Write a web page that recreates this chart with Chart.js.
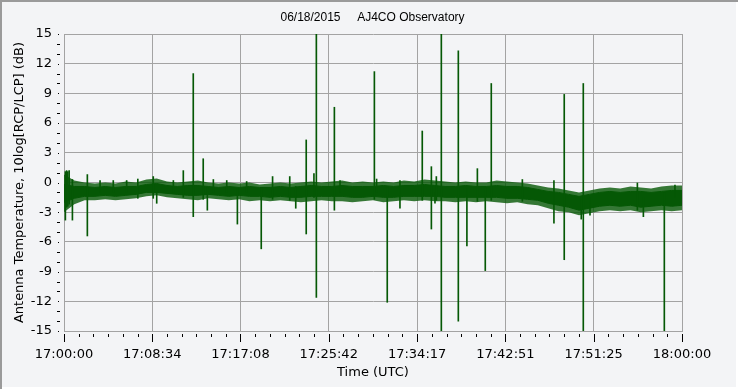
<!DOCTYPE html>
<html>
<head>
<meta charset="utf-8">
<script src="https://cdn.jsdelivr.net/npm/chart.js@4.4.1/dist/chart.umd.min.js"></script>
<style>
  html, body { margin:0; padding:0; background:#f3f4f6; }
  #wrap { width:738px; height:389px; position:relative; }
</style>
</head>
<body>
<div id="wrap"><canvas id="chart" width="738" height="389"></canvas></div>
<script>
const chartTitle = '06/18/2015     AJ4CO Observatory';

// seconds after 17:00:00 UTC
const tickSeconds = [0, 514, 1028, 1542, 2057, 2571, 3085, 3600];
const tickLabels  = ['17:00:00', '17:08:34', '17:17:08', '17:25:42', '17:34:17', '17:42:51', '17:51:25', '18:00:00'];

// noise band, one reading per minute (dB): outer extent and dense core
const bandMinutes = [0,1,2,3,4,5,6,7,8,9,10,11,12,13,14,15,16,17,18,19,20,21,22,23,24,25,26,27,28,29,30,
  31,32,33,34,35,36,37,38,39,40,41,42,43,44,45,46,47,48,49,50,51,52,53,54,55,56,57,58,59,60];
const bandUpper = [0.8,0.2,0.0,-0.1,0.0,-0.1,0.1,0.0,0.3,0.4,0.1,0.0,0.1,0.2,0.0,-0.1,0.0,-0.1,0.0,-0.2,-0.1,
  0.0,-0.1,0.0,0.1,0.0,0.1,0.2,0.0,0.1,0.0,0.1,0.0,0.2,0.1,0.3,0.2,0.1,0.0,0.1,0.0,
  0.0,0.2,0.1,0.0,-0.1,-0.3,-0.5,-0.6,-0.8,-1.0,-0.8,-0.6,-0.5,-0.6,-0.4,-0.5,-0.6,-0.4,-0.3,-0.3];
const bandLower = [-3.0,-2.2,-1.8,-1.8,-1.7,-1.8,-1.7,-1.6,-1.4,-1.3,-1.5,-1.6,-1.7,-1.8,-1.6,-1.7,-1.8,-1.7,-1.9,-1.8,-1.9,
  -1.8,-1.9,-2.0,-1.9,-1.8,-1.9,-1.9,-2.0,-1.9,-1.8,-2.0,-1.9,-1.8,-1.9,-1.8,-1.9,-1.9,-2.0,-1.9,-2.0,
  -1.9,-2.0,-2.1,-2.0,-2.2,-2.3,-2.6,-2.9,-3.0,-3.3,-3.1,-2.9,-2.8,-2.9,-2.8,-3.0,-2.9,-2.8,-2.9,-2.8];
const coreUpper = [-0.2,-0.4,-0.4,-0.5,-0.4,-0.5,-0.4,-0.4,-0.2,-0.1,-0.3,-0.4,-0.3,-0.3,-0.4,-0.5,-0.4,-0.5,-0.4,-0.5,-0.5,
  -0.4,-0.5,-0.4,-0.3,-0.4,-0.4,-0.3,-0.4,-0.4,-0.4,-0.3,-0.4,-0.3,-0.3,-0.2,-0.3,-0.4,-0.4,-0.3,-0.4,
  -0.4,-0.3,-0.4,-0.4,-0.5,-0.7,-0.9,-1.0,-1.2,-1.4,-1.2,-1.0,-0.9,-1.0,-0.9,-0.9,-1.0,-0.9,-0.8,-0.8];
const coreLower = [-2.0,-1.6,-1.4,-1.4,-1.3,-1.4,-1.3,-1.2,-1.0,-1.0,-1.1,-1.2,-1.3,-1.3,-1.2,-1.3,-1.4,-1.3,-1.4,-1.4,-1.5,
  -1.4,-1.5,-1.5,-1.4,-1.4,-1.4,-1.4,-1.5,-1.5,-1.4,-1.5,-1.5,-1.4,-1.4,-1.4,-1.4,-1.5,-1.5,-1.5,-1.5,
  -1.5,-1.5,-1.6,-1.6,-1.7,-1.8,-2.1,-2.3,-2.5,-2.8,-2.6,-2.4,-2.3,-2.4,-2.3,-2.5,-2.4,-2.3,-2.4,-2.3];

// impulsive spikes and needles: time (s), low and high end (dB)
const spikeTimes = [8, 15, 22, 30, 49, 136, 695, 753, 811, 835, 1010, 1149, 1411, 1456, 1470, 1575,
  1808, 1883, 2087, 2140, 2169, 2198, 2297, 2347, 2408, 2454, 2489, 2670, 2854, 2914, 3013, 3025, 3340, 3497,
  430, 520, 1215, 1315, 1350,
  210, 287, 365, 540, 637, 870, 948, 1064, 1608, 1821, 1957, 2161, 3064, 3375, 3559];
const spikeLow  = [-3.8, -2.5, -2.4, -2.2, -3.8, -5.4, -1.5, -3.45, -1.7, -2.8, -4.2, -6.7, -5.2, -1.5, -11.6, -2.8,
  -1.7, -12.1, -1.8, -4.7, -1.8, -15, -14.0, -6.4, -1.9, -8.9, -1.8, -1.9, -4.1, -7.8, -3.7, -15, -2.8, -15,
  -1.6, -1.6, -1.7, -1.8, -2.6,
  -1.0, -1.0, -1.0, -2.1, -1.0, -1.0, -1.0, -1.0, -1.0, -1.0, -2.6, -2.1, -3.3, -3.45, -1.5];
const spikeHigh = [1.1, 1.2, 1.1, 1.2, 0.3, 0.8, 1.2, 11.0, 2.4, -0.5, -0.6, -0.5, 4.3, 0.9, 15, 7.6,
  11.2, -0.5, 5.2, 1.6, 0.6, 15, 13.3, -0.6, 1.4, -0.5, 10.0, 0.3, 0.2, 8.9, -1.5, 10.0, 0.0, -1.0,
  0.35, 0.6, 0.6, 0.6, -0.4,
  0.2, 0.2, 0.2, -1.0, 0.2, 0.3, 0.2, 0.1, 0.2, 0.35, 0.2, -1.0, -1.5, -1.5, -0.25];

const green = '#055805';
const greenFringe = 'rgba(5, 88, 5, 0.8)';
const gridGray = '#a3a3a3';

const pts = (arr) => bandMinutes.map((m, i) => ({ x: m * 60, y: arr[i] }));
const spikePts = spikeTimes.map((t, i) => ({ x: t, y: [spikeLow[i], spikeHigh[i]] }));

// title, frame and small tick marks outside the plot
const extras = {
  id: 'extras',
  afterDraw(c) {
    const { ctx, chartArea: a, scales: { x, y } } = c;
    const W = c.width, H = c.height;
    ctx.save();
    ctx.fillStyle = '#000';
    ctx.font = '12px "Liberation Sans", Arial, sans-serif';
    ctx.textAlign = 'center';
    ctx.textBaseline = 'middle';
    ctx.fillText(chartTitle, 372.5, 18);

    ctx.strokeStyle = '#000';
    ctx.lineWidth = 1;
    ctx.beginPath();
    for (let k = 0; k < tickSeconds.length; k++) {
      const px = Math.round(x.getPixelForValue(tickSeconds[k])) + 0.5;
      ctx.moveTo(px, a.bottom + 3); ctx.lineTo(px, a.bottom + 11);
      if (k < tickSeconds.length - 1) {
        const step = (tickSeconds[k + 1] - tickSeconds[k]) / 6;
        for (let j = 1; j < 6; j++) {
          const mx = Math.round(x.getPixelForValue(tickSeconds[k] + j * step)) + 0.5;
          ctx.moveTo(mx, a.bottom + 3); ctx.lineTo(mx, a.bottom + 6);
        }
      }
    }
    for (let v = -15; v <= 15; v++) {
      const py = Math.round(y.getPixelForValue(v)) + 0.5;
      if (v % 3 === 0) { ctx.moveTo(a.left - 6, py); ctx.lineTo(a.left - 5, py); }
      else { ctx.moveTo(a.left - 7, py); ctx.lineTo(a.left - 4, py); }
    }
    ctx.stroke();

    ctx.strokeStyle = '#9a9a9a';
    ctx.lineWidth = 2;
    ctx.beginPath();
    ctx.moveTo(1, H); ctx.lineTo(1, 1); ctx.lineTo(W, 1);
    ctx.stroke();
    ctx.strokeStyle = '#ffffff';
    ctx.beginPath();
    ctx.moveTo(W - 1, 2); ctx.lineTo(W - 1, H - 1); ctx.lineTo(2, H - 1);
    ctx.stroke();
    ctx.restore();
  }
};

new Chart(document.getElementById('chart'), {
  type: 'line',
  data: {
    datasets: [
      { data: pts(bandUpper), borderWidth: 0, pointRadius: 0, tension: 0,
        fill: '+1', backgroundColor: greenFringe, order: 3 },
      { data: pts(bandLower), borderWidth: 0, pointRadius: 0, tension: 0,
        fill: false, order: 3 },
      { data: pts(coreUpper), borderColor: green, borderWidth: 1, pointRadius: 0, tension: 0,
        fill: '+1', backgroundColor: green, order: 2 },
      { data: pts(coreLower), borderColor: green, borderWidth: 1, pointRadius: 0, tension: 0,
        fill: false, order: 2 },
      { type: 'bar', data: spikePts, backgroundColor: green, borderWidth: 0, barThickness: 1,
        grouped: false, order: 1 }
    ]
  },
  options: {
    responsive: false,
    animation: false,
    devicePixelRatio: 1,
    layout: { padding: { left: 0, top: 34, right: 56, bottom: 0 } },
    plugins: {
      legend: { display: false },
      tooltip: { enabled: false },
      title: { display: false }
    },
    scales: {
      x: {
        type: 'linear', min: 0, max: 3600, offset: false,
        afterFit: s => { s.height = 58; },
        afterBuildTicks: s => { s.ticks = tickSeconds.map(v => ({ value: v })); },
        grid: { color: gridGray, drawTicks: false, offset: false },
        border: { display: true, color: gridGray },
        ticks: {
          autoSkip: false, maxRotation: 0, padding: 16, color: '#000',
          font: { family: '"DejaVu Sans", sans-serif', size: 13 },
          callback: (v, i) => tickLabels[i]
        },
        title: {
          display: true, text: 'Time (UTC)', color: '#000',
          font: { family: '"DejaVu Sans", sans-serif', size: 13 },
          padding: { top: 0, bottom: 9 }
        }
      },
      y: {
        min: -15, max: 15,
        afterFit: s => { s.width = 64; },
        grid: { color: gridGray, drawTicks: false },
        border: { display: true, color: gridGray },
        ticks: {
          stepSize: 3, padding: 12, color: '#000',
          font: { family: '"DejaVu Sans", sans-serif', size: 13 }
        },
        title: {
          display: true, text: 'Antenna Temperature, 10log[RCP/LCP] (dB)', color: '#000',
          font: { family: '"DejaVu Sans", sans-serif', size: 13 },
          padding: { top: 12, bottom: 0 }
        }
      }
    }
  },
  plugins: [extras]
});
</script>
</body>
</html>
